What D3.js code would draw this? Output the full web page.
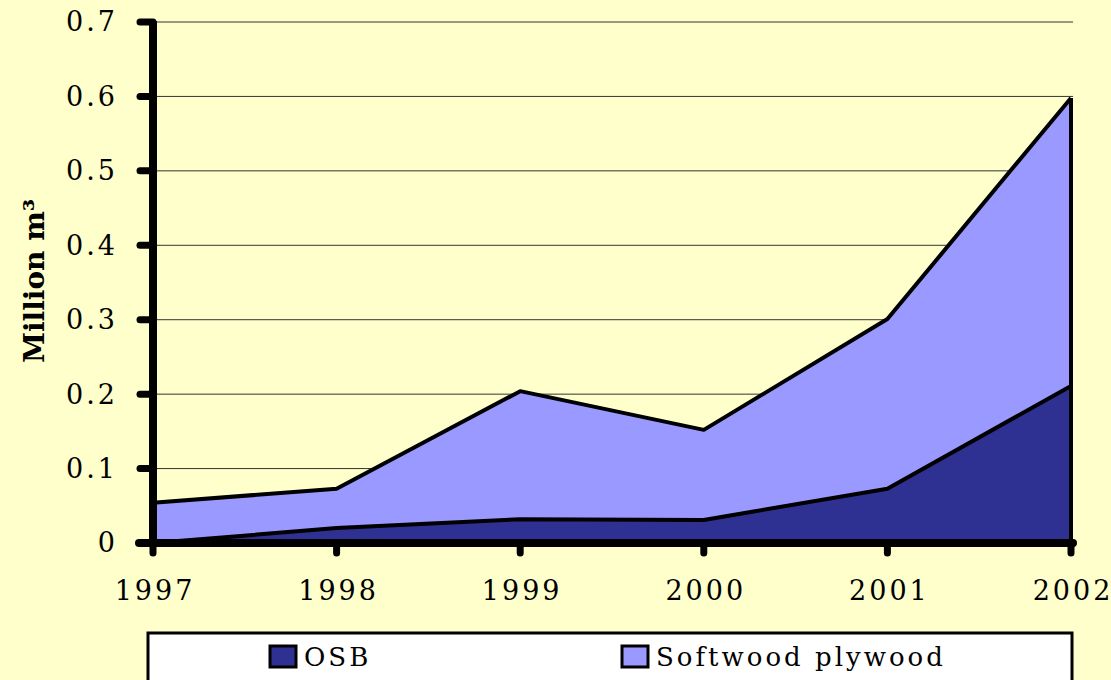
<!DOCTYPE html>
<html>
<head>
<meta charset="utf-8">
<script src="https://cdn.jsdelivr.net/npm/d3@7"></script>
<style>
  body { margin: 0; background: #FFFFCC; }
  svg { display: block; }
  text { font-family: "DejaVu Serif", "Liberation Serif", serif; fill: #000; }
</style>
</head>
<body>
<div id="chart"></div>
<script>
const width = 1111;
const height = 680;

// data (million m3)
const years = ["1997", "1998", "1999", "2000", "2001", "2002"];
const osb = [0.0, 0.02, 0.032, 0.031, 0.073, 0.211];
const softwoodPlywood = [0.054, 0.053, 0.172, 0.121, 0.228, 0.387];
const yTicks = [0, 0.1, 0.2, 0.3, 0.4, 0.5, 0.6, 0.7];
const seriesNames = ["OSB", "Softwood plywood"];
const seriesColors = ["#2E3192", "#9999FF"];

const rows = years.map((y, i) => ({ year: y, "OSB": osb[i], "Softwood plywood": softwoodPlywood[i] }));

const svg = d3.select("#chart").append("svg")
    .attr("width", width).attr("height", height);

svg.append("rect").attr("width", width).attr("height", height).attr("fill", "#FFFFCC");

const x = d3.scalePoint().domain(years).range([153, 1071]);
const y = d3.scaleLinear().domain([0, 0.7]).range([543, 22]);

// gridlines
svg.append("g").selectAll("line")
    .data(yTicks.filter(d => d > 0))
    .enter().append("line")
    .attr("x1", 153).attr("x2", 1073)
    .attr("y1", d => y(d)).attr("y2", d => y(d))
    .attr("stroke", "#333").attr("stroke-width", 1);

// stacked areas
const stack = d3.stack().keys(seriesNames);
const layers = stack(rows);

const area = d3.area()
    .x(d => x(d.data.year))
    .y0(d => y(d[0]))
    .y1(d => y(d[1]));

svg.append("g").selectAll("path")
    .data(layers)
    .enter().append("path")
    .attr("d", area)
    .attr("fill", (d, i) => seriesColors[i]);

// outline of each layer's top, plus right edge
const topLine = d3.line().x(d => x(d.data.year)).y(d => y(d[1]));
svg.append("g").selectAll("path")
    .data(layers)
    .enter().append("path")
    .attr("d", topLine)
    .attr("fill", "none")
    .attr("stroke", "#000")
    .attr("stroke-width", 4)
    .attr("stroke-linejoin", "round");

const last = layers[layers.length - 1];
svg.append("line")
    .attr("x1", x("2002")).attr("x2", x("2002"))
    .attr("y1", y(last[last.length - 1][1])).attr("y2", y(0))
    .attr("stroke", "#000").attr("stroke-width", 4);

// y axis
const yAxis = svg.append("g");
yAxis.selectAll("line.tick")
    .data(yTicks)
    .enter().append("line")
    .attr("class", "tick")
    .attr("x1", 140).attr("x2", 153)
    .attr("y1", d => y(d)).attr("y2", d => y(d))
    .attr("stroke", "#000").attr("stroke-width", 7).attr("stroke-linecap", "round");
yAxis.selectAll("text")
    .data(yTicks)
    .enter().append("text")
    .attr("x", 118).attr("y", d => y(d))
    .attr("dy", "0.35em")
    .attr("text-anchor", "end")
    .attr("font-size", 27)
    .attr("letter-spacing", 3)
    .text(d => d === 0 ? "0" : d3.format(".1f")(d));
yAxis.append("line")
    .attr("x1", 153).attr("x2", 153)
    .attr("y1", y(0.7) - 1).attr("y2", y(0) + 3)
    .attr("stroke", "#000").attr("stroke-width", 8);

// x axis
const xAxis = svg.append("g");
xAxis.selectAll("line.tick")
    .data(years)
    .enter().append("line")
    .attr("class", "tick")
    .attr("x1", d => x(d)).attr("x2", d => x(d))
    .attr("y1", 543).attr("y2", 553)
    .attr("stroke", "#000").attr("stroke-width", 7).attr("stroke-linecap", "round");
xAxis.append("line")
    .attr("x1", 139).attr("x2", 1073)
    .attr("y1", 543).attr("y2", 543)
    .attr("stroke", "#000").attr("stroke-width", 8).attr("stroke-linecap", "round");
xAxis.selectAll("text")
    .data(years)
    .enter().append("text")
    .attr("x", d => x(d) + 2).attr("y", 600)
    .attr("text-anchor", "middle")
    .attr("font-size", 27)
    .attr("letter-spacing", 3)
    .text(d => d);

// y title
svg.append("text")
    .attr("transform", "translate(44,281) rotate(-90)")
    .attr("text-anchor", "middle")
    .attr("font-family", "Liberation Serif, serif")
    .attr("font-size", 28)
    .attr("font-weight", "bold")
    .text("Million m³");

// legend
const legend = svg.append("g");
legend.append("rect")
    .attr("x", 148).attr("y", 633).attr("width", 924).attr("height", 60)
    .attr("fill", "#fff").attr("stroke", "#000").attr("stroke-width", 3);
const legendX = [270, 622];
seriesNames.forEach((name, i) => {
    legend.append("rect")
        .attr("x", legendX[i]).attr("y", 646).attr("width", 26).attr("height", 21)
        .attr("fill", seriesColors[i]).attr("stroke", "#000").attr("stroke-width", 3);
    legend.append("text")
        .attr("x", legendX[i] + 34).attr("y", 666)
        .attr("font-size", 26)
        .attr("letter-spacing", 3)
        .text(name);
});
</script>
</body>
</html>
